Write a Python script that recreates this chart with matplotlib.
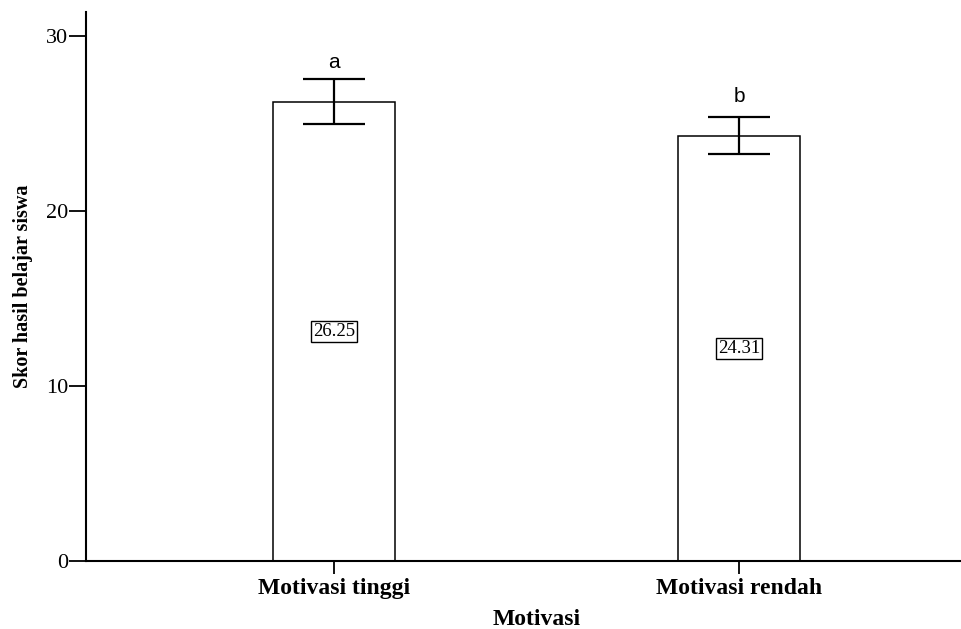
import numpy as np
import matplotlib
matplotlib.use('Agg')
import matplotlib.pyplot as plt

# ___DATA___ #
categories = ['Motivasi tinggi', 'Motivasi rendah']
means = [26.25, 24.31]
err_low = [24.99, 23.26]
err_high = [27.54, 25.39]
letters = ['a', 'b']

fig = plt.figure(figsize=(9.61, 6.29), dpi=100)
ax = fig.add_axes([86 / 961, 1 - 561 / 629, 1 - 86 / 961, (561 - 12) / 629])

x = np.arange(len(categories))
ax.bar(x, means, width=0.30, color='white', edgecolor='black', linewidth=1.1, zorder=2)

yerr = [np.array(means) - np.array(err_low), np.array(err_high) - np.array(means)]
ax.errorbar(x, means, yerr=yerr, fmt='none', ecolor='black', elinewidth=1.6,
            capsize=22, capthick=1.6, zorder=3)

# letters above error bars
for xi, m, lt in zip(x, means, letters):
    ax.text(xi, m + 1.92, lt, ha='center', va='baseline', fontsize=15,
            family='Liberation Sans')

# value boxes in the middle of bars
for xi, m in zip(x, means):
    ax.text(xi, m / 2, '{:.2f}'.format(m), ha='center', va='center', fontsize=13.5,
            family='Liberation Serif',
            bbox=dict(boxstyle='square,pad=0.12', facecolor='white', edgecolor='black', linewidth=1))

ax.set_xlim(-0.612, 1.548)
ax.set_ylim(0, 31.37)
ax.set_yticks([0, 10, 20, 30])
ax.set_yticklabels(['0', '10', '20', '30'], family='Liberation Serif', fontsize=16)
ax.set_xticks(x)
ax.set_xticklabels(categories, family='Liberation Serif', fontweight='bold', fontsize=17)

ax.tick_params(axis='y', length=12, width=1.3, pad=1)
ax.tick_params(axis='x', length=9.5, width=1.3, pad=3)

for side in ['top', 'right']:
    ax.spines[side].set_visible(False)
for side in ['left', 'bottom']:
    ax.spines[side].set_linewidth(1.5)

ax.set_ylabel('Skor hasil belajar siswa', family='Liberation Serif', fontweight='bold', fontsize=14.5)
ax.yaxis.set_label_coords(-0.06, 0.5)
ax.set_xlabel('Motivasi', family='Liberation Serif', fontweight='bold', fontsize=17)
ax.xaxis.set_label_coords(0.515, -0.107)
ax.xaxis.label.set_va('center')

fig.savefig('out.png', dpi=100)
